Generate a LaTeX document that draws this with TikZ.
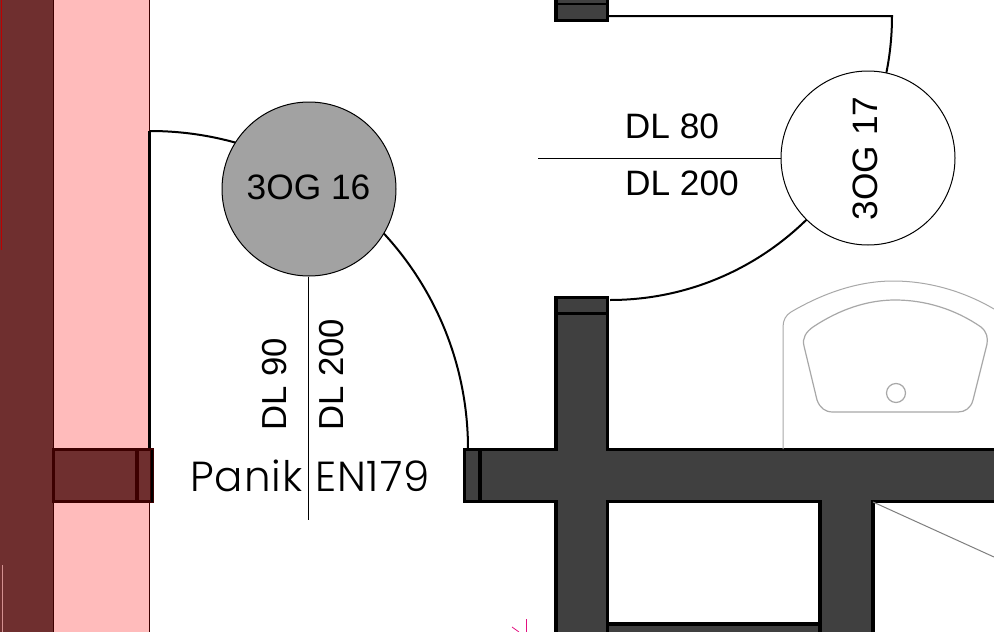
\documentclass[tikz,border=0pt]{standalone}
\usepackage{fontspec}
\setmainfont{Liberation Sans}
\newfontfamily\panikfont{Poppins Light}[LetterSpace=2.4]
\definecolor{wallgrey}{HTML}{404040}
\definecolor{wallred}{HTML}{6F2F2F}
\definecolor{wallpink}{HTML}{FFBBBB}
\definecolor{edgered}{HTML}{3D0000}
\definecolor{doorgrey}{HTML}{A2A2A2}
\definecolor{fixture}{HTML}{A8A8A8}
\tikzset{
  wall/.style={fill=wallgrey,draw=none},
  walledge/.style={draw=black,line width=3.5pt},
  redwall/.style={draw=edgered,line width=3.5pt,fill=wallred},
  door/.style={draw=black,line width=2pt},
  tag/.style={circle,draw=black,line width=1pt,minimum size=174pt,inner sep=0pt},
  leader/.style={draw=black,line width=0.7pt},
  sink/.style={draw=fixture,line width=1.2pt},
  label/.style={inner sep=0pt,font=\fontsize{35.3}{40}\selectfont},
  sidelabel/.style={inner sep=0pt,rotate=90,anchor=west,font=\fontsize{34.7}{40}\selectfont}
}
\begin{document}
\begin{tikzpicture}[x=1pt,y=-1pt]
\useasboundingbox (0,0) rectangle (994,632);
\fill[white] (0,0) rectangle (994,632);
% red wall
\fill[wallpink] (53,0) rectangle (150,632);
\fill[wallred] (0,0) rectangle (53,632);
\draw[draw=edgered,line width=1pt] (53,0) -- (53,632);
\draw[draw=edgered,line width=1pt] (149.5,0) -- (149.5,632);
\draw[draw=red!75!black,line width=1.2pt] (1.5,0) -- (1.5,250);
\draw[draw=wallpink!70!wallred,line width=1pt] (2,565) -- (2,632);
% doors
\draw[door] (150,131) arc[start angle=-90,end angle=0,radius=318];
\draw[door,line width=3pt] (149,131) -- (149,449);
\draw[door] (607,16) -- (892,16) arc[start angle=0,end angle=90,x radius=282,y radius=284];
% grey walls
\fill[wall] (465,449) rectangle (994,502);
\fill[wall] (556,297) rectangle (607.5,632);
\fill[wall] (820,502) rectangle (873,632);
\fill[wall] (607,622) rectangle (820,632);
\fill[wall] (556,0) rectangle (607.5,20);
\draw[walledge] (556,632) -- (556,501.5) -- (464.5,501.5) -- (464.5,449.5) -- (556,449.5) -- (556,297.5) -- (607.5,297.5) -- (607.5,449.5) -- (994,449.5);
\draw[walledge] (994,501.5) -- (873,501.5) -- (873,632);
\draw[walledge] (820,632) -- (820,501.5) -- (607.5,501.5) -- (607.5,632);
\draw[walledge] (607.5,624) -- (820,624);
\draw[walledge] (480,449.5) -- (480,501.5);
\draw[walledge] (556,313.5) -- (607.5,313.5);
\draw[walledge] (556,0) -- (556,20.5) -- (607.5,20.5) -- (607.5,0);
\draw[walledge,line width=2.5pt] (556,4) -- (607.5,4);
% red frame
\draw[redwall] (53.5,449.5) rectangle (152,501.5);
\draw[draw=edgered,line width=4pt] (137,449.5) -- (137,501.5);
\draw[draw=black,line width=2.5pt] (152,449.5) -- (152,501.5);
% sink
\draw[sink,line width=1pt] (783,449) -- (783,327) .. controls (783,320) and (786,315) .. (791,312) .. controls (825,292) and (860,281) .. (893,281) .. controls (930,281) and (965,292) .. (994,309);
\draw[sink] (813,327) .. controls (840,309) and (868,300) .. (895,300) .. controls (925,300) and (955,309) .. (981,327) .. controls (987,332) and (988,338) .. (987,344) -- (973,400) .. controls (971,408) and (965,412) .. (958,412) -- (833,412) .. controls (825,412) and (820,408) .. (817,400) -- (804,346) .. controls (802,338) and (806,332) .. (813,327) -- cycle;
\node[circle,sink,minimum size=19pt,inner sep=0pt] (drain) at (896,393) {};
\coordinate (diagA) at (873,502);
\coordinate (diagB) at (994,557);
\draw[draw=gray,line width=1pt] (diagA) -- (diagB);
% magenta mark
\draw[draw=magenta!80!purple,line width=0.8pt] (526,619) -- (526,632);
\draw[draw=magenta!80!purple,line width=0.8pt] (512,627) -- (519,632);
% tags
\node[tag,fill=doorgrey] (t16) at (309,189) {};
\node[tag,fill=white] (t17) at (868,158) {};
\node[label] (l16) at (308.5,187) {3OG 16};
\node[label,rotate=90] (l17) at (865,158.5) {3OG 17};
\coordinate (leadA) at (308,520);
\coordinate (leadB) at (538,158);
\draw[leader] (t16.south -| leadA) -- (leadA);
\draw[leader] (t17.west) -- (leadB);
\node[label] (dl80) at (672,126) {DL 80};
\node[label] (dl200a) at (682,183) {DL 200};
\node[sidelabel] (dl90) at (275,431) {DL 90};
\node[sidelabel] (dl200b) at (332,431) {DL 200};
\node[inner sep=0pt,font=\panikfont\fontsize{42}{46}\selectfont] (panik) at (310,476) {Panik EN179};
\end{tikzpicture}
\end{document}
